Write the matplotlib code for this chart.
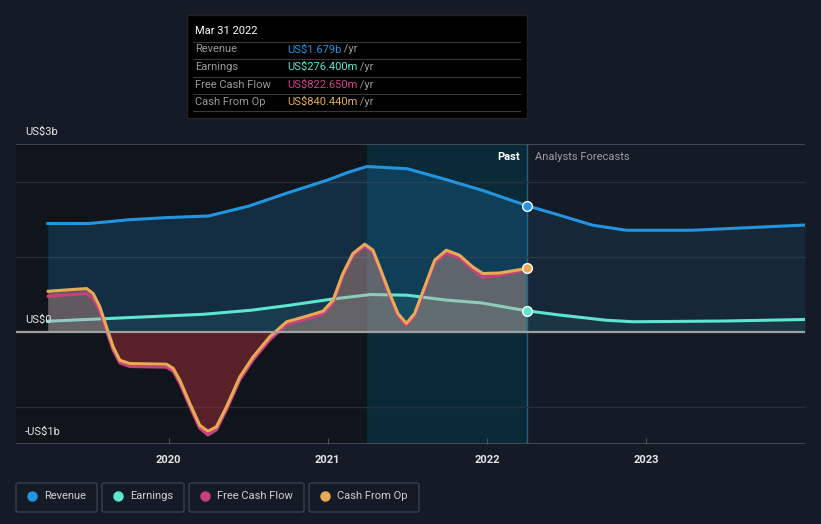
import numpy as np
import matplotlib
matplotlib.use("Agg")
import matplotlib.pyplot as plt
from matplotlib.patches import Rectangle, FancyBboxPatch

plt.rcParams["font.family"] = ["Roboto", "DejaVu Sans"]

# values in US$ billions, x in decimal years
rev_x = [2019.24, 2019.50, 2019.75, 2020.0, 2020.25, 2020.5, 2020.75, 2021.0,
         2021.125, 2021.245, 2021.5, 2021.72, 2021.975, 2022.125, 2022.25]
rev_y = [1.44, 1.44, 1.49, 1.52, 1.54, 1.67, 1.85, 2.02, 2.12, 2.20, 2.17, 2.04, 1.88,
         1.77, 1.679]
rev_fx = [2022.25, 2022.457, 2022.666, 2022.876, 2023.29, 2023.6, 2024.0]
rev_fy = [1.679, 1.55, 1.417, 1.35, 1.35, 1.38, 1.42]

earn_x = [2019.24, 2019.62, 2020.22, 2020.52, 2020.76, 2021.02, 2021.27, 2021.5,
          2021.74, 2021.97, 2022.25]
earn_y = [0.137, 0.173, 0.23, 0.284, 0.35, 0.43, 0.493, 0.484, 0.42, 0.38, 0.2764]
earn_fx = [2022.25, 2022.457, 2022.75, 2022.92, 2023.5, 2024.0]
earn_fy = [0.2764, 0.22, 0.15, 0.13, 0.14, 0.16]

cf_x = [2019.2425, 2019.4837, 2019.525, 2019.567, 2019.609, 2019.651, 2019.693, 2019.756,
        2019.986, 2020.028, 2020.070, 2020.133, 2020.195, 2020.247, 2020.300, 2020.363,
        2020.447, 2020.530, 2020.635, 2020.740, 2020.866, 2020.970, 2021.033, 2021.095,
        2021.158, 2021.232, 2021.284, 2021.326, 2021.389, 2021.441, 2021.494, 2021.546,
        2021.609, 2021.672, 2021.745, 2021.828, 2021.912, 2021.975, 2022.080, 2022.25]
cfo_y = [0.537, 0.573, 0.507, 0.33, 0.06, -0.205, -0.383, -0.427,
         -0.436, -0.49, -0.65, -0.96, -1.25, -1.33, -1.27, -1.005,
         -0.605, -0.34, -0.07, 0.128, 0.204, 0.27, 0.417, 0.773,
         1.04, 1.164, 1.084, 0.86, 0.507, 0.24, 0.107, 0.24,
         0.595, 0.95, 1.084, 1.017, 0.86, 0.773, 0.78, 0.8404]
fcf_y = [0.47, 0.506, 0.44, 0.27, 0.01, -0.25, -0.42, -0.467,
         -0.476, -0.53, -0.69, -1.0, -1.29, -1.38, -1.31, -1.045,
         -0.645, -0.38, -0.11, 0.09, 0.165, 0.23, 0.38, 0.74,
         1.01, 1.14, 1.06, 0.83, 0.475, 0.21, 0.077, 0.21,
         0.565, 0.915, 1.045, 0.98, 0.82, 0.72, 0.75, 0.8227]

years = [2020, 2021, 2022, 2023]

BG = "#151b26"
C_REV, C_EARN, C_FCF, C_CFO = "#2394df", "#5ee5d0", "#c8407e", "#e8ab55"
W, H = 821, 524


def fx(x):
    return x / W


def fy(y):
    return 1 - y / H


fig = plt.figure(figsize=(W / 100, H / 100), dpi=100, facecolor=BG)
ax = fig.add_axes([fx(16), fy(444), fx(805) - fx(16), fy(144) - fy(444)])
ax.set_facecolor(BG)
ax.set_xlim(2019.04, 2024.0)
ax.set_ylim(-1.5, 2.5)

# background regions: darker past, highlighted last year
ax.axvspan(2019.04, 2021.245, color="#10141b", zorder=0, lw=0)
ax.axvspan(2021.245, 2022.25, color="#0b2a37", zorder=0, lw=0)
ax.axvline(2022.25, color="#1e6680", lw=1, zorder=1)

for g in [-1, 1, 2]:
    ax.axhline(g, color="#262e3a", lw=1, zorder=1)
ax.axhline(2.5, color="#4a5058", lw=1.2, zorder=1)
ax.axhline(-1.5, color="#4a5058", lw=1.2, zorder=1)

# revenue
ax.fill_between(rev_x, rev_y, 0, color=C_REV, alpha=0.2, lw=0, zorder=2)
ax.fill_between(rev_fx, rev_fy, 0, color=C_REV, alpha=0.1, lw=0, zorder=2)
ax.plot(rev_x, rev_y, color=C_REV, lw=2.2, zorder=4, solid_joinstyle="round")
ax.plot(rev_fx, rev_fy, color=C_REV, lw=2.2, zorder=4, solid_joinstyle="round")

# earnings
ax.fill_between(earn_x, earn_y, 0, color=C_EARN, alpha=0.08, lw=0, zorder=2)
ax.fill_between(earn_fx, earn_fy, 0, color=C_EARN, alpha=0.08, lw=0, zorder=2)
ax.plot(earn_x, earn_y, color=C_EARN, lw=2.2, zorder=3, solid_joinstyle="round")
ax.plot(earn_fx, earn_fy, color=C_EARN, lw=2.2, zorder=3, solid_joinstyle="round")

# cash flow (positive area pale, negative area dark red)
cf = np.array(cfo_y)
ax.fill_between(cf_x, cf, 0, where=cf >= 0, interpolate=True, color="#e0a590",
                alpha=0.38, lw=0, zorder=3.5)
ax.fill_between(cf_x, cf, 0, where=cf <= 0, interpolate=True, color="#b03038",
                alpha=0.45, lw=0, zorder=3.5)
ax.plot(cf_x, fcf_y, color=C_FCF, lw=2.2, zorder=5, solid_joinstyle="round")
ax.plot(cf_x, cfo_y, color=C_CFO, lw=2.2, zorder=6, solid_joinstyle="round")

ax.axhline(0, color="#a0a0a0", lw=1.6, zorder=7)

# end markers
for v, c in [(rev_y[-1], C_REV), (earn_y[-1], C_EARN), (cfo_y[-1], C_CFO)]:
    ax.plot([2022.25], [v], "o", ms=7, mfc=c, mec="white", mew=1, zorder=8)

for s in ax.spines.values():
    s.set_visible(False)
ax.set_yticks([])
ax.set_xticks(years)
ax.set_xticklabels([str(y) for y in years], color="#e6e6e6", fontsize=8, fontweight="bold")
ax.tick_params(axis="x", direction="in", length=4, color="#4a5058", pad=8)

ax.text(2022.21, 2.33, "Past", color="#ffffff", fontsize=8, ha="right", va="center",
        fontweight="bold")
ax.text(2022.30, 2.33, "Analysts Forecasts", color="#9a9ea5", fontsize=8, ha="left",
        va="center")

for txt, y in [("US$3b", 132), ("US$0", 320), ("-US$1b", 432)]:
    fig.text(fx(25), fy(y), txt, color="#e6e6e6", fontsize=8, va="center", ha="left")

# tooltip
fig.patches.append(Rectangle((fx(187), fy(118)), fx(527) - fx(187), fy(15) - fy(118),
                             transform=fig.transFigure, facecolor="#000000",
                             edgecolor="#222222", lw=1, zorder=10))
fig.text(fx(195), fy(31), "Mar 31 2022", color="#ffffff", fontsize=8, va="center",
         zorder=11)
for yl in [41.5, 59, 76.5, 94, 111]:
    fig.add_artist(plt.Line2D([fx(193), fx(520)], [fy(yl), fy(yl)], color="#3a3a3a",
                              lw=0.8, transform=fig.transFigure, zorder=11))
rows = [("Revenue", "US$1.679b", C_REV), ("Earnings", "US$276.400m", C_EARN),
        ("Free Cash Flow", "US$822.650m", "#d2418a"), ("Cash From Op", "US$840.440m", C_CFO)]
fig.canvas.draw()
r = fig.canvas.get_renderer()
for i, (lab, val, c) in enumerate(rows):
    yy = fy(49.5 + i * 17.5)
    fig.text(fx(195), yy, lab, color="#9a9a9a", fontsize=8, va="center", zorder=11)
    t = fig.text(fx(287), yy, val, color=c, fontsize=8, va="center", zorder=11)
    bb = t.get_window_extent(renderer=r)
    fig.text(bb.x1 / W, yy, " /yr", color="#9a9a9a", fontsize=8, va="center", zorder=11)

# legend
items = [("Revenue", C_REV, 16, 97), ("Earnings", C_EARN, 102, 184),
         ("Free Cash Flow", C_FCF, 189, 304), ("Cash From Op", C_CFO, 309, 419)]
for lab, c, x0, x1 in items:
    fig.patches.append(FancyBboxPatch((fx(x0), fy(512)), fx(x1) - fx(x0), fy(483) - fy(512),
                                      boxstyle="round,pad=0,rounding_size=0.003",
                                      transform=fig.transFigure, facecolor="none",
                                      edgecolor="#3a404a", lw=1))
    fig.add_artist(plt.Line2D([fx(x0 + 16)], [fy(496)], marker="o", ms=6.5, color=c,
                              mec=c, transform=fig.transFigure))
    fig.text(fx(x0 + 28), fy(496), lab, color="#cfcfcf", fontsize=8, va="center")

fig.savefig("out.png", dpi=100, facecolor=BG)
